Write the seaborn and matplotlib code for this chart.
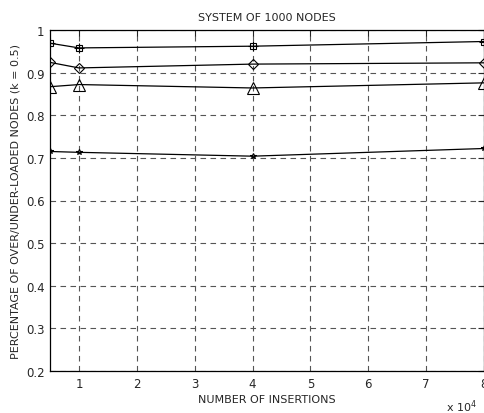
import matplotlib
matplotlib.use("Agg")
import matplotlib.pyplot as plt
import seaborn as sns
import pandas as pd
from matplotlib.ticker import MultipleLocator

insertions = [5000, 10000, 40000, 80000]
series_hex = [0.969, 0.958, 0.962, 0.973]
series_diamond = [0.924, 0.911, 0.920, 0.923]
series_triangle = [0.867, 0.872, 0.864, 0.876]
series_star = [0.715, 0.713, 0.704, 0.722]

sns.set_style("white")
plt.rcParams["font.family"] = ["DejaVu Sans"]

fig = plt.figure(figsize=(4.85, 4.14), dpi=100)
ax = fig.add_axes([50 / 485, 1 - 372 / 414, 434 / 485, 341 / 414])

x = [v / 1e4 for v in insertions]
specs = [
    (series_hex, "s", 5),
    (series_diamond, "D", 5.5),
    (series_triangle, "^", 8),
    (series_star, "*", 4),
]
for vals, mk, ms in specs:
    df = pd.DataFrame({"x": x, "y": vals})
    sns.lineplot(data=df, x="x", y="y", ax=ax, color="black", lw=0.9,
                 marker=mk, markersize=ms, markerfacecolor="none",
                 markeredgecolor="black", markeredgewidth=0.8)
# cross inside the square markers
ax.plot(x, series_hex, ls="none", marker="+", ms=7, color="black", mew=0.8)

ax.set_xlim(0.5, 8)
ax.set_ylim(0.2, 1.0)
ax.xaxis.set_major_locator(MultipleLocator(1))
ax.yaxis.set_major_locator(MultipleLocator(0.1))
ax.set_yticks([0.2, 0.3, 0.4, 0.5, 0.6, 0.7, 0.8, 0.9, 1.0])
ax.set_yticklabels(["0.2", "0.3", "0.4", "0.5", "0.6", "0.7", "0.8", "0.9", "1"])
ax.set_xticks(range(1, 9))
ax.set_xticklabels([str(i) for i in range(1, 9)])

ax.grid(True, ls=(0, (5, 4)), color="#555555", lw=0.8)
ax.tick_params(direction="in", length=4, width=0.8, top=True, right=True,
               labelsize=8.5, pad=4)
for sp in ax.spines.values():
    sp.set_visible(True)
    sp.set_color("black")
    sp.set_linewidth(0.9)

ax.set_title("SYSTEM OF 1000 NODES", fontsize=8, pad=7)
ax.set_xlabel("NUMBER OF INSERTIONS", fontsize=8, labelpad=3)
ax.set_ylabel("PERCENTAGE OF OVER/UNDER-LOADED NODES (k = 0.5)", fontsize=8, labelpad=4)
fig.text(446 / 485, 1 - 407 / 414, r"x 10$^{4}$", fontsize=8, ha="left", va="center")

fig.savefig("out.png", dpi=100)
